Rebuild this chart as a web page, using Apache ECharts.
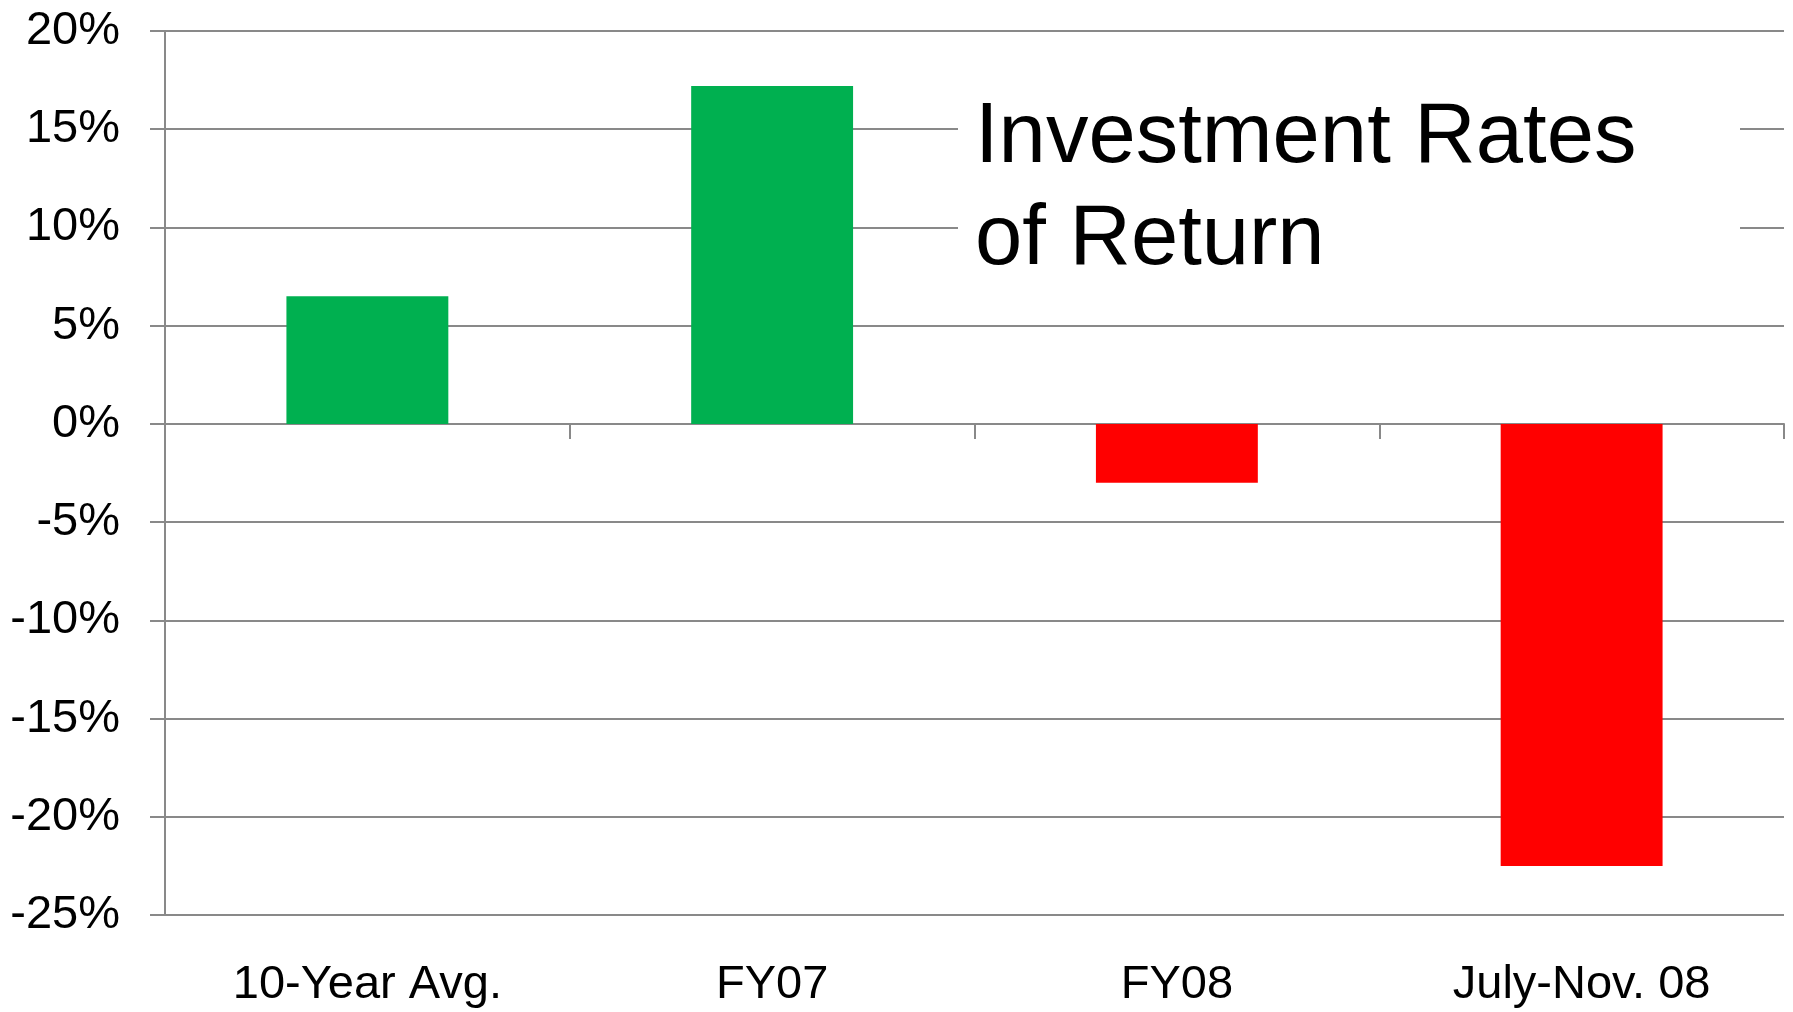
<!DOCTYPE html>
<html>
<head>
<meta charset="utf-8">
<script src="https://cdn.jsdelivr.net/npm/echarts@6/dist/echarts.min.js"></script>
<style>
  html, body { margin: 0; padding: 0; background: #fff; }
  #chart { width: 1793px; height: 1012px; }
</style>
</head>
<body>
<div id="chart"></div>
<script>
// 图表数据
const categories = ['10-Year Avg.', 'FY07', 'FY08', 'July-Nov. 08']
const returns = [6.5, 17.2, -3.0, -22.5]
const yTicks = [-25, -20, -15, -10, -5, 0, 5, 10, 15, 20]
const titleLines = ['Investment Rates', 'of Return']

const GREEN = '#00B050'
const RED = '#FF0000'
const GRID_GRAY = '#898989'
const FONT = '"Liberation Sans", Arial, sans-serif'

const chart = echarts.init(document.getElementById('chart'))

const option = {
  backgroundColor: '#fff',
  animation: false,
  grid: { left: 165, right: 9, top: 31, bottom: 97, containLabel: false },
  xAxis: [
    {
      // 底部的类别标签
      type: 'category',
      data: categories,
      position: 'bottom',
      axisLine: { show: false, onZero: false },
      axisTick: { show: false },
      axisLabel: { margin: 47, fontSize: 47, color: '#000', fontFamily: FONT },
      splitLine: { show: false }
    },
    {
      // 零线 + 刻度
      type: 'category',
      data: categories,
      position: 'bottom',
      axisLine: { show: true, onZero: true, lineStyle: { color: GRID_GRAY, width: 2 } },
      axisTick: { show: true, length: 15, inside: false, lineStyle: { color: GRID_GRAY, width: 2 } },
      axisLabel: { show: false },
      splitLine: { show: false }
    }
  ],
  yAxis: {
    type: 'value',
    min: yTicks[0],
    max: yTicks[yTicks.length - 1],
    interval: 5,
    axisLine: { show: true, lineStyle: { color: GRID_GRAY, width: 2 } },
    axisTick: { show: true, length: 15, lineStyle: { color: GRID_GRAY, width: 2 } },
    axisLabel: {
      margin: 45,
      fontSize: 47,
      color: '#000',
      fontFamily: FONT,
      formatter: (v) => v + '%'
    },
    splitLine: { show: true, lineStyle: { color: GRID_GRAY, width: 2 } }
  },
  series: [
    {
      type: 'bar',
      xAxisIndex: 0,
      barCategoryGap: '60%',
      data: returns.map((v) => ({
        value: v,
        itemStyle: { color: v >= 0 ? GREEN : RED }
      }))
    }
  ],
  graphic: [
    {
      type: 'rect',
      shape: { x: 958, y: 70, width: 782, height: 220 },
      style: { fill: '#fff' },
      z: 100
    },
    {
      type: 'text',
      x: 975,
      y: 139,
      z: 101,
      style: {
        text: titleLines[0],
        fontSize: 85,
        fontFamily: FONT,
        fill: '#000',
        verticalAlign: 'middle'
      }
    },
    {
      type: 'text',
      x: 975,
      y: 241,
      z: 101,
      style: {
        text: titleLines[1],
        fontSize: 85,
        fontFamily: FONT,
        fill: '#000',
        verticalAlign: 'middle'
      }
    }
  ]
}

chart.setOption(option)
</script>
</body>
</html>
